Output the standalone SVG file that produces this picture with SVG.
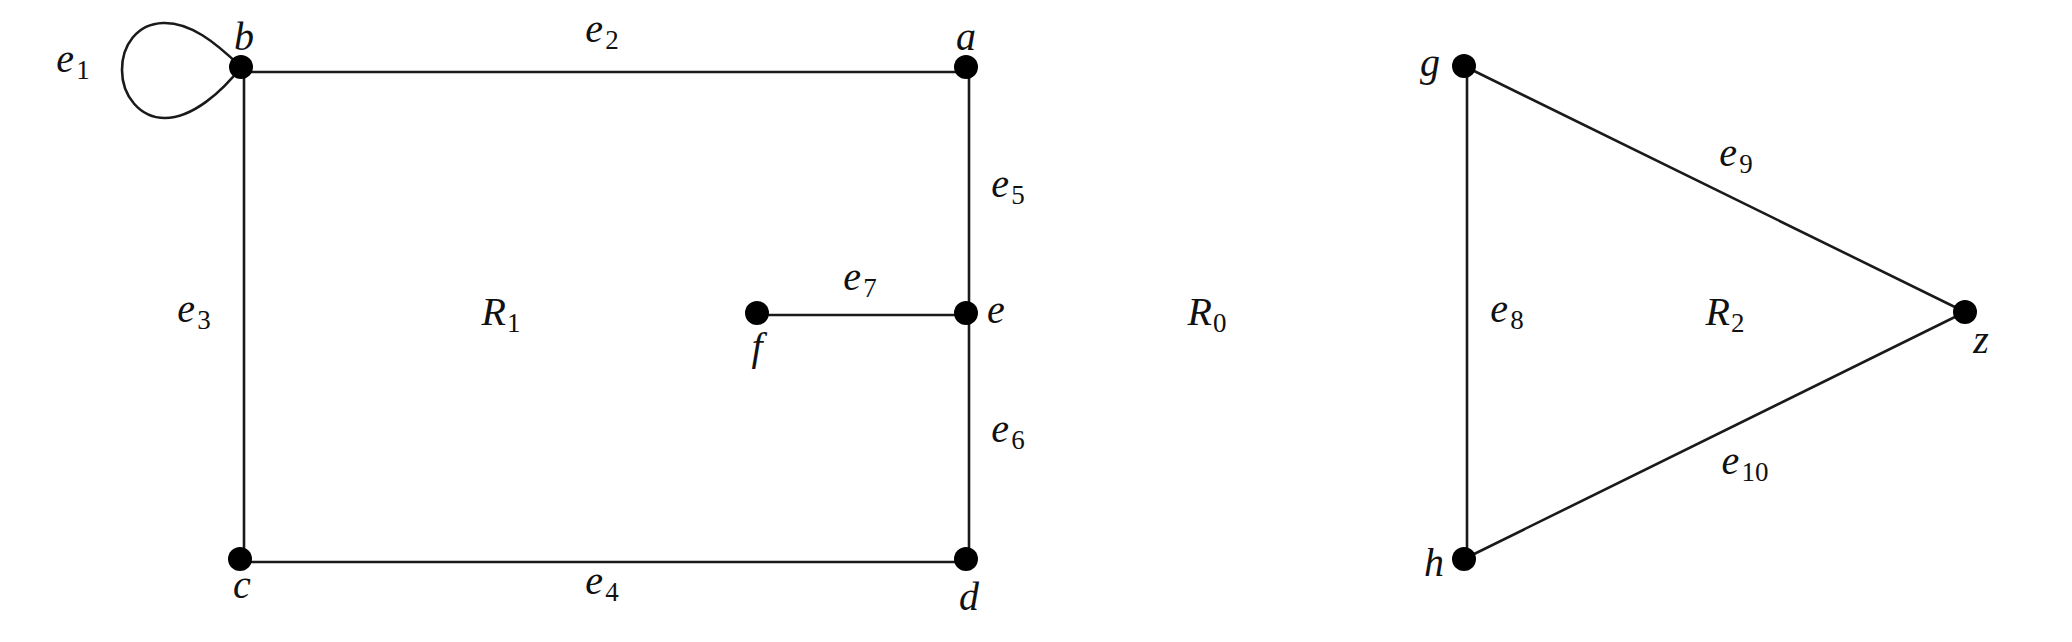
<svg xmlns="http://www.w3.org/2000/svg" width="2072" height="642" viewBox="0 0 2072 642">
<style>
.edge{stroke:#1a1a1a;stroke-width:2.6;fill:none;stroke-linecap:round}
.dot{fill:#000}
text{font-family:"Liberation Serif","DejaVu Serif",serif;font-style:italic;font-size:40px;fill:#111;text-anchor:middle}
.sub{font-size:27px;font-style:normal}
</style>
<rect width="2072" height="642" fill="#fff"/>
<g id="connectors">
<path id="e1" class="edge" d="M241 67 C215 42,190 22,163 23 C137 24,122 45,122 70 C122 96,140 118,165 118 C192 118,222 92,241 67"/>
<line id="e2" class="edge" x1="241" y1="72" x2="969" y2="72"/>
<line id="e3" class="edge" x1="244" y1="67" x2="244" y2="562"/>
<line id="e4" class="edge" x1="240" y1="562" x2="969" y2="562"/>
<line id="e5" class="edge" x1="969" y1="67" x2="969" y2="315"/>
<line id="e6" class="edge" x1="969" y1="315" x2="969" y2="562"/>
<line id="e7" class="edge" x1="757" y1="315" x2="969" y2="315"/>
<line id="e8" class="edge" x1="1467" y1="66" x2="1467" y2="559"/>
<line id="e9" class="edge" x1="1464" y1="66" x2="1965" y2="312"/>
<line id="e10" class="edge" x1="1464" y1="559" x2="1965" y2="312"/>
</g>
<g id="node-b"><circle class="dot" cx="241" cy="67" r="12"/><text x="244" y="50">b</text></g>
<g id="node-a"><circle class="dot" cx="966" cy="67" r="12"/><text x="966" y="50">a</text></g>
<g id="node-c"><circle class="dot" cx="240" cy="559" r="12"/><text x="242" y="598">c</text></g>
<g id="node-d"><circle class="dot" cx="966" cy="559" r="12"/><text x="969" y="610">d</text></g>
<g id="node-e"><circle class="dot" cx="966" cy="313" r="12"/><text x="996" y="323">e</text></g>
<g id="node-f"><circle class="dot" cx="757" cy="313" r="12"/><text x="757" y="360">f</text></g>
<g id="node-g"><circle class="dot" cx="1464" cy="66" r="12"/><text x="1430" y="76">g</text></g>
<g id="node-h"><circle class="dot" cx="1464" cy="559" r="12"/><text x="1434" y="576">h</text></g>
<g id="node-z"><circle class="dot" cx="1965" cy="312" r="12"/><text x="1981" y="353">z</text></g>
<g id="labels">
<text x="73" y="72">e<tspan class="sub" dx="2" dy="7">1</tspan></text>
<text x="602" y="42">e<tspan class="sub" dx="2" dy="7">2</tspan></text>
<text x="194" y="322">e<tspan class="sub" dx="2" dy="7">3</tspan></text>
<text x="602" y="594">e<tspan class="sub" dx="2" dy="7">4</tspan></text>
<text x="1008" y="197">e<tspan class="sub" dx="2" dy="7">5</tspan></text>
<text x="1008" y="442">e<tspan class="sub" dx="2" dy="7">6</tspan></text>
<text x="860" y="290">e<tspan class="sub" dx="2" dy="7">7</tspan></text>
<text x="1507" y="322">e<tspan class="sub" dx="2" dy="7">8</tspan></text>
<text x="1736" y="166">e<tspan class="sub" dx="2" dy="7">9</tspan></text>
<text x="1745" y="474">e<tspan class="sub" dx="2" dy="7">10</tspan></text>
<text x="501" y="325">R<tspan class="sub" dx="1" dy="7">1</tspan></text>
<text x="1207" y="325">R<tspan class="sub" dx="1" dy="7">0</tspan></text>
<text x="1725" y="325">R<tspan class="sub" dx="1" dy="7">2</tspan></text>
</g>
</svg>
